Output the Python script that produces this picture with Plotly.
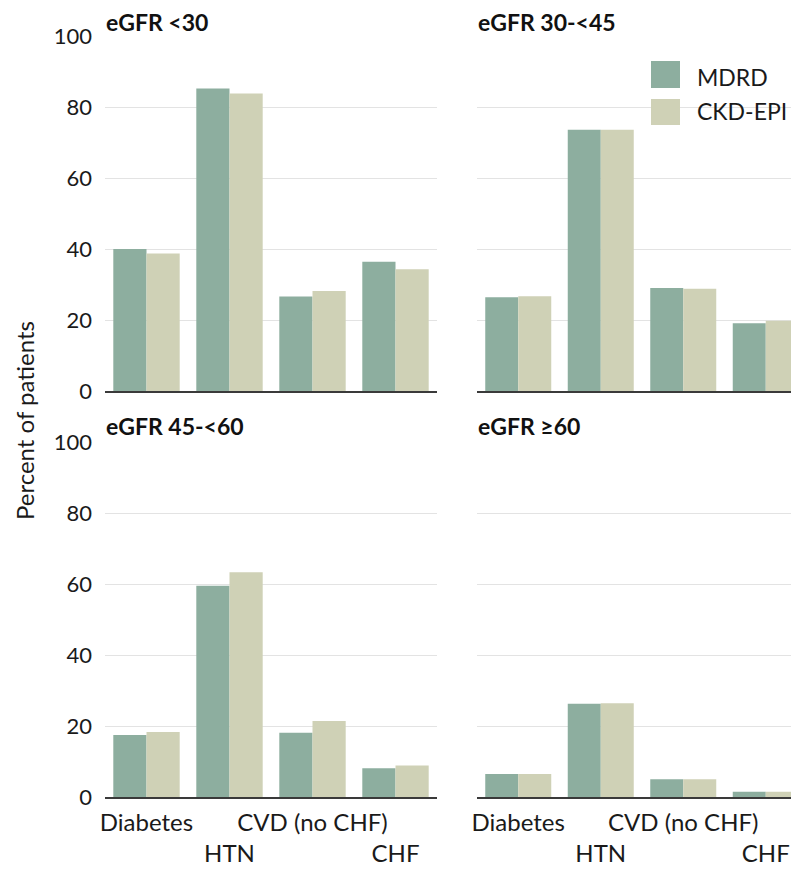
import plotly.graph_objects as go

# ---------------- data ----------------
categories = ["Diabetes", "HTN", "CVD (no CHF)", "CHF"]
tick_labels = ["Diabetes", "<br>HTN", "CVD (no CHF)", "<br>CHF"]
panel_titles = ["eGFR <30", "eGFR 30-<45", "eGFR 45-<60", "eGFR ≥60"]
series_names = ["MDRD", "CKD-EPI"]

mdrd_lt30 = [40.0, 85.2, 26.6, 36.4]
ckd_lt30 = [38.7, 83.8, 28.2, 34.3]
mdrd_30_45 = [26.4, 73.6, 29.0, 19.1]
ckd_30_45 = [26.7, 73.6, 28.8, 19.8]
mdrd_45_60 = [17.5, 59.5, 18.1, 8.1]
ckd_45_60 = [18.3, 63.3, 21.4, 8.9]
mdrd_ge60 = [6.5, 26.3, 5.0, 1.5]
ckd_ge60 = [6.5, 26.4, 5.0, 1.5]

y_ticks = [0, 20, 40, 60, 80, 100]

# ---------------- style ----------------
W, H = 799, 869
OFF = 8  # page body margin
C_MDRD = "#8DAE9F"
C_CKD = "#CFD1B6"
GRID = "#E3E3E3"
AXLINE = "#3A3A3A"
FONT = "Lato, Open Sans, sans-serif"
TXT = "#1a1a1a"

panels = [
    (mdrd_lt30, ckd_lt30),
    (mdrd_30_45, ckd_30_45),
    (mdrd_45_60, ckd_45_60),
    (mdrd_ge60, ckd_ge60),
]

def px_x(p):
    return (p - OFF) / W

def px_y(p):
    return 1 - (p - OFF) / H

x_dom = [[px_x(105), px_x(437)], [px_x(477), 1.0]]
y_dom = [[px_y(391), px_y(36)], [px_y(797), px_y(442)]]
x_rng = [[-0.5, 3.5], [-0.5, 3.5]]

fig = go.Figure()
for i, (m, c) in enumerate(panels):
    n = "" if i == 0 else str(i + 1)
    fig.add_trace(go.Bar(x=categories, y=m, name=series_names[0], marker_color=C_MDRD,
                         marker_line_width=0, xaxis="x" + n, yaxis="y" + n,
                         showlegend=False))
    fig.add_trace(go.Bar(x=categories, y=c, name=series_names[1], marker_color=C_CKD,
                         marker_line_width=0, xaxis="x" + n, yaxis="y" + n,
                         showlegend=False))

layout = dict(
    width=W, height=H,
    margin=dict(l=0, r=0, t=0, b=0),
    paper_bgcolor="white", plot_bgcolor="white",
    barmode="group", bargap=0.2, bargroupgap=0,
    font=dict(family=FONT, size=22, color=TXT),
    showlegend=False,
)

for i in range(4):
    row, col = divmod(i, 2)
    n = "" if i == 0 else str(i + 1)
    layout["xaxis" + n] = dict(
        domain=x_dom[col], range=x_rng[col], anchor="y" + n,
        type="category", categoryorder="array", categoryarray=categories,
        tickmode="array", tickvals=categories, ticktext=tick_labels,
        tickangle=0, ticklabelstandoff=3,
        showticklabels=(row == 1), ticks="", showgrid=False,
        showline=True, linecolor=AXLINE, linewidth=2,
        tickfont=dict(family=FONT, size=24, color=TXT),
        automargin=False, fixedrange=True,
    )
    layout["yaxis" + n] = dict(
        domain=y_dom[row], range=[0, 100], anchor="x" + n,
        tickmode="array", tickvals=y_ticks,
        showticklabels=(col == 0), ticks="", ticklabelstandoff=12,
        showgrid=True, gridcolor=GRID, gridwidth=1,
        zeroline=False, showline=False,
        tickfont=dict(family=FONT, size=22, color=TXT),
        automargin=False, fixedrange=True,
    )

fig.update_layout(**layout)

# panel titles
title_pos = [(104, 21.5), (476, 21.5), (104, 425.5), (476, 425.5)]
for t, (xp, yp) in zip(panel_titles, title_pos):
    fig.add_annotation(text="<b>" + t + "</b>", x=px_x(xp), y=px_y(yp),
                       xref="paper", yref="paper", xanchor="left", yanchor="middle",
                       showarrow=False, font=dict(family=FONT, size=23, color="#111"))

# y-axis title
fig.add_annotation(text="Percent of patients", x=px_x(25), y=px_y(421),
                   xref="paper", yref="paper", xanchor="center", yanchor="middle",
                   textangle=-90, showarrow=False,
                   font=dict(family=FONT, size=24, color=TXT))

# legend (manual, large swatches)
fig.add_shape(type="rect", xref="paper", yref="paper", layer="below",
              x0=px_x(643), x1=1.0, y0=px_y(132), y1=px_y(52),
              fillcolor="white", line_width=0)
legend_rows = [(C_MDRD, 61, 88, 76.5), (C_CKD, 99, 125, 111)]
for name, (col_, y0, y1, yc) in zip(series_names, legend_rows):
    fig.add_shape(type="rect", xref="paper", yref="paper",
                  x0=px_x(651), x1=px_x(680), y0=px_y(y1), y1=px_y(y0),
                  fillcolor=col_, line_width=0)
    fig.add_annotation(text=name, x=px_x(695), y=px_y(yc), xref="paper", yref="paper",
                       xanchor="left", yanchor="middle", showarrow=False,
                       font=dict(family=FONT, size=23, color=TXT))

fig.write_html("out.html")
